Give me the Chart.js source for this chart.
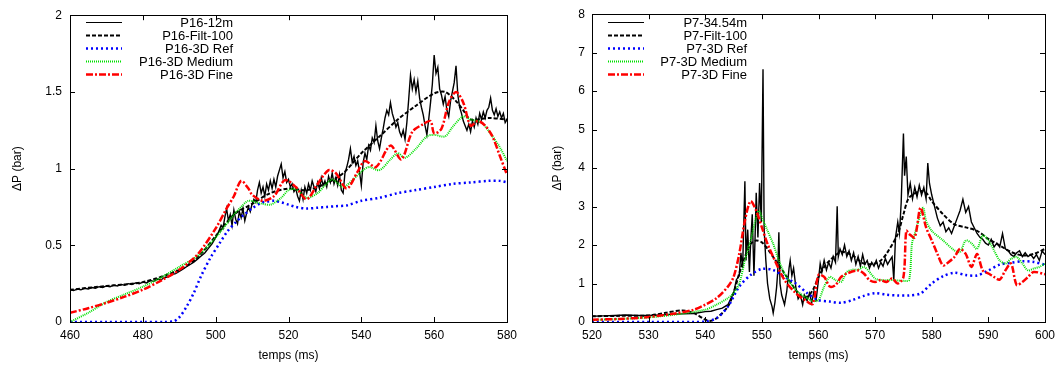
<!DOCTYPE html>
<html>
<head>
<meta charset="utf-8">
<script src="https://cdn.jsdelivr.net/npm/chart.js@4.4.1/dist/chart.umd.min.js"></script>
<style>
  body { margin: 0; background: #fff; }
  #wrap { position: relative; width: 1062px; height: 369px; }
  .box { position: absolute; top: 0; width: 531px; height: 369px; }
</style>
</head>
<body>
<div id="wrap">
  <div class="box" style="left:0"><canvas id="chartP16"></canvas></div>
  <div class="box" style="left:531px"><canvas id="chartP7"></canvas></div>
</div>
<script>
// ---- left panel: P16 ----
const p16XTicks = [460, 480, 500, 520, 540, 560, 580];
const p16YTicks = [0, 0.5, 1, 1.5, 2];

const p16MeasT = [460,461,462,463,464,465,466,467,468,469,470,471,472,473,474,475,476,477,478,479,480,481,482,483,484,485,486,487,488,489,490,491,492,493,494,495,496,497,498,499,500,
  500.5,501,501.5,502,502.5,503,503.5,504,504.5,505,505.5,506,506.5,507,507.5,508,508.5,509,509.5,510,510.5,511,511.5,512,512.5,513,513.5,514,514.5,515,515.5,516,516.5,517,517.5,518,518.5,519,519.5,520,
  520.5,521,521.5,522,522.5,523,523.5,524,524.5,525,525.5,526,526.5,527,527.5,528,528.5,529,529.5,530,530.5,531,531.5,532,532.5,533,533.5,534,534.5,535,535.5,536,536.5,537,537.5,538,538.5,539,539.5,540,
  540.5,541,541.5,542,542.5,543,543.5,544,544.5,545,545.5,546,546.5,547,547.5,548,548.5,549,549.5,550,550.5,551,551.5,552,552.5,553,553.5,554,554.5,555,555.5,556,556.5,557,557.5,558,558.5,559,559.5,560,
  560.5,561,561.5,562,562.5,563,563.5,564,564.5,565,565.5,566,566.5,567,567.5,568,568.5,569,569.5,570,570.5,571,571.5,572,572.5,573,573.5,574,574.5,575,575.5,576,576.5,577,577.5,578,578.5,579,579.5,580];
const p16Meas = [0.21,0.205,0.215,0.21,0.22,0.215,0.225,0.22,0.23,0.225,0.235,0.23,0.24,0.235,0.245,0.24,0.25,0.245,0.255,0.25,0.26,0.255,0.27,0.265,0.28,0.275,0.29,0.295,0.31,0.315,0.33,0.345,0.36,0.375,0.39,0.41,0.43,0.45,0.48,0.51,0.55,
  0.57,0.6,0.63,0.61,0.68,0.74,0.66,0.70,0.63,0.73,0.67,0.64,0.72,0.68,0.74,0.66,0.71,0.75,0.72,0.77,0.80,0.78,0.86,0.91,0.84,0.88,0.82,0.90,0.86,0.92,0.87,0.93,0.88,0.95,0.99,1.03,0.94,0.98,0.91,0.93,
  0.88,0.90,0.85,0.87,0.82,0.79,0.86,0.80,0.88,0.84,0.90,0.86,0.92,0.88,0.85,0.91,0.87,0.94,0.89,0.92,0.88,0.95,0.91,0.97,0.90,0.94,0.89,0.96,0.86,0.84,0.97,1.01,1.06,1.13,1.04,1.08,1.02,1.05,0.98,0.89,
  1.04,1.10,1.06,1.15,1.12,1.20,1.17,1.28,1.18,1.13,1.20,1.26,1.33,1.38,1.35,1.43,1.36,1.32,1.27,1.30,1.24,1.21,1.25,1.19,1.30,1.45,1.61,1.52,1.58,1.50,1.57,1.46,1.40,1.35,1.28,1.22,1.32,1.43,1.55,1.74,
  1.62,1.66,1.52,1.48,1.42,1.47,1.38,1.34,1.44,1.50,1.56,1.67,1.48,1.40,1.36,1.31,1.28,1.25,1.29,1.24,1.31,1.27,1.33,1.29,1.36,1.32,1.37,1.33,1.38,1.40,1.46,1.38,1.35,1.39,1.34,1.37,1.33,1.36,1.30,1.32];

const p16FiltT = [460,470,480,490,495,500,505,510,515,520,525,530,535,540,545,550,555,560,563,566,568,570,575,580];
const p16Filt  = [0.21,0.235,0.26,0.34,0.42,0.56,0.70,0.77,0.84,0.87,0.86,0.90,0.97,1.10,1.21,1.32,1.41,1.49,1.50,1.44,1.38,1.32,1.33,1.32];

const p16RefT = [460,470,480,486,488.5,490,492,494,496,498.6,501,503.2,505.5,507.8,510,512.3,514,516,518,520,522,525,528,530.6,533,536,540,545,550,555,560,565,570,575,578,580];
const p16Ref  = [0,0,0,0,0.005,0.03,0.1,0.19,0.3,0.42,0.51,0.59,0.65,0.70,0.74,0.775,0.785,0.79,0.78,0.765,0.75,0.74,0.745,0.75,0.755,0.76,0.79,0.81,0.84,0.86,0.88,0.90,0.91,0.92,0.92,0.91];

const p16MedT = [460,465,470,475,480,485,490,495,500,505,507,509,512,515,518,520,522,525,528,530,532,535,538,540,542,545,548,550,552,555,558,560,563,565,568,570,573,576,578,580];
const p16Med  = [0,0.06,0.13,0.18,0.23,0.29,0.36,0.43,0.55,0.70,0.75,0.79,0.775,0.765,0.81,0.86,0.865,0.81,0.84,0.89,0.93,0.88,0.935,0.98,1.01,0.99,1.06,1.10,1.07,1.13,1.21,1.22,1.21,1.27,1.34,1.32,1.30,1.21,1.14,1.05];

const p16FineT = [460,465,470,475,480,485,490,495,500,503,505,507,509,510,513,516,519,522,525,528,531,533,536,539,541,544,548,551,554,557,559,560,562,564,566,568,570,572,574,576,578,580];
const p16Fine  = [0.06,0.09,0.125,0.165,0.21,0.27,0.34,0.44,0.61,0.74,0.82,0.92,0.87,0.83,0.79,0.82,0.925,0.88,0.80,0.90,0.99,0.97,0.87,0.98,1.05,1.01,1.15,1.06,1.24,1.29,1.31,1.23,1.26,1.43,1.50,1.43,1.28,1.31,1.28,1.21,1.085,0.96];

// ---- right panel: P7 ----
const p7XTicks = [520, 530, 540, 550, 560, 570, 580, 590, 600];
const p7YTicks = [0, 1, 2, 3, 4, 5, 6, 7, 8];

const p7MeasT = [520,522,524,526,528,530,532,534,536,538,540,541,542,543,544,544.5,545,545.5,546,546.3,546.6,547,547.2,547.5,547.8,548,548.3,548.6,548.8,549,549.3,549.6,549.9,550.2,550.4,550.7,551,551.4,551.8,552,552.3,552.6,552.8,553,553.2,553.5,554,554.4,554.8,555,555.3,555.6,556,556.4,556.8,557.2,557.5,558,558.4,558.8,559.2,559.6,
  560,560.3,560.6,561,561.4,561.8,562.2,562.6,563,563.3,563.5,563.8,564.2,564.6,565,565.4,565.8,566.2,566.6,567,567.4,567.8,568.2,568.6,569,569.4,569.8,570.2,570.6,571,571.4,571.8,572.2,572.6,573,573.3,573.6,574,574.3,574.6,575,575.2,575.5,575.8,576.2,576.6,577,577.4,577.8,578.2,578.6,579,579.3,579.6,
  580,580.5,581,581.5,582,582.5,583,583.5,584,584.5,585,585.5,586,586.5,587,587.5,588,588.5,589,589.5,590,590.5,591,591.5,592,592.5,593,593.5,594,594.5,595,595.5,596,596.5,597,597.5,598,598.5,599,599.5,600];
const p7Meas = [0.15,0.16,0.17,0.18,0.17,0.17,0.18,0.2,0.21,0.22,0.27,0.28,0.32,0.36,0.45,0.6,0.75,1.1,1.2,1.8,1.4,3.66,1.6,2.4,1.3,2.0,2.8,1.2,2.2,3.36,2.2,3.61,2.6,6.57,2.4,1.6,1.0,0.6,0.4,0.23,0.5,0.9,1.3,2.33,1.0,0.7,0.45,0.8,1.4,1.6,1.2,1.4,0.9,0.6,0.7,0.45,0.7,0.55,0.75,0.5,0.8,0.6,
  1.1,1.52,1.3,1.6,1.35,1.55,1.4,1.7,1.55,3.01,1.7,1.9,1.75,2.0,1.7,1.85,1.6,1.8,1.5,1.7,1.45,1.75,1.5,1.6,1.4,1.55,1.45,1.6,1.4,1.55,1.45,1.65,1.5,1.6,1.69,1.1,2.2,2.6,2.3,3.1,4.9,3.8,4.3,3.3,3.6,3.2,3.5,3.25,3.55,3.3,3.5,3.2,4.13,3.6,
  3.3,3.0,2.7,2.5,2.6,2.35,2.45,2.3,2.5,2.7,2.9,3.19,2.85,3.0,2.6,2.45,2.3,2.2,2.15,2.05,2.0,2.15,1.95,2.05,1.95,2.3,1.9,1.85,1.75,1.7,1.8,1.85,1.7,1.8,1.7,1.75,1.65,1.75,1.6,1.85,1.75];

const p7FiltT = [520,525,530,533,536,538,540,541,542,544,545,546,547,548,549,550,551,552,554,556,557,558,559,560,561,562,564,566,568,570,571,572,574,575,576,578,579,580,582,584,586,588,590,592,594,596,598,600];
const p7Filt  = [0.15,0.16,0.17,0.24,0.3,0.23,0.06,0.03,0.1,0.4,0.75,1.26,1.69,2.03,2.12,2.07,1.9,1.69,1.26,0.83,0.66,0.66,0.83,1.17,1.43,1.6,1.82,1.73,1.52,1.52,1.6,1.77,2.29,2.8,3.23,3.4,3.36,3.14,2.8,2.54,2.46,2.37,2.16,1.99,1.82,1.73,1.77,1.9];

const p7RefT = [520,530,538,540,542,544,546,548,550,552,554,556,558,560,562,564,566,568,570,572,574,576,578,580,582,584,586,588,590,592,594,596,598,600];
const p7Ref  = [0,0,0,0.01,0.1,0.4,0.92,1.22,1.38,1.35,1.17,1.0,0.75,0.57,0.53,0.5,0.57,0.68,0.75,0.71,0.69,0.69,0.74,1.0,1.19,1.28,1.22,1.21,1.34,1.49,1.54,1.58,1.56,1.49];

const p7MedT = [520,525,530,535,540,542,544,545,546,547,548,549,549.5,550,551,552,553,554,556,558,559,560,561,562,563,564,565,566,567,568,569,570,571,573,575,576,576.5,577,578,578.5,579,580,582,584,585,586,587,588,589,590,591,592,593,594,595,596,597,598,599,600];
const p7Med  = [0.05,0.08,0.12,0.2,0.32,0.45,0.62,0.75,1.0,1.6,2.12,2.72,2.89,2.72,2.37,2.03,1.6,1.26,0.83,0.62,0.55,0.57,0.92,1.17,1.09,1.04,1.3,1.36,1.36,1.43,1.3,1.13,1.09,1.09,1.07,1.09,2.03,2.29,2.8,2.97,2.63,2.37,2.12,1.86,1.82,2.12,2.05,1.9,2.25,2.12,1.86,1.6,1.52,1.64,1.69,1.52,1.34,1.39,1.43,1.52];

const p7FineT = [520,525,530,535,538,540,542,544,545,546,547,548,549,550,551,552,554,556,558,559,560,561,562,563,564,565,567,568,569,570,571,572,573,574,575,575.5,576,577,578,579,580,581,582,583,584,585,586,587,588,589,590,591,592,593,594,595,596,597,598,600];
const p7Fine  = [0.06,0.08,0.13,0.23,0.32,0.45,0.62,0.92,1.17,1.77,2.63,3.14,2.89,2.46,2.03,1.69,1.09,0.75,0.53,0.47,1.22,1.17,0.92,0.96,1.17,1.26,1.34,1.26,1.09,1.04,1.09,1.04,1.13,1.0,1.17,2.37,2.29,2.2,2.97,2.46,2.12,1.77,1.47,1.56,1.69,1.90,1.77,1.43,1.77,1.34,1.26,1.17,1.10,1.34,1.52,0.96,1.04,1.17,1.30,1.24];

const seriesStyles = [
  { color: "#000000", width: 1.4, dash: [] },
  { color: "#000000", width: 2, dash: [4, 2] },
  { color: "#0000ff", width: 2.5, dash: [2, 3] },
  { color: "#00e000", width: 2, dash: [1, 1] },
  { color: "#ff0000", width: 2.5, dash: [7, 2, 2, 2] },
];

function toPoints(xs, ys) {
  return xs.map((x, i) => ({ x: x, y: ys[i] }));
}

function makeDataset(label, xs, ys, idx) {
  const s = seriesStyles[idx];
  return {
    label: label,
    data: toPoints(xs, ys),
    borderColor: s.color,
    borderWidth: s.width,
    borderDash: s.dash,
    pointRadius: 0,
    fill: false,
    tension: idx === 0 ? 0 : 0.3,
    order: 5 - idx,
  };
}

// frame + inward ticks on all four sides, gnuplot style
const framePlugin = {
  id: "frame",
  afterDatasetsDraw(chart) {
    const { ctx, chartArea: a, scales } = chart;
    const len = 5;
    ctx.save();
    ctx.strokeStyle = "#000";
    ctx.lineWidth = 1;
    ctx.setLineDash([]);
    ctx.beginPath();
    scales.x.ticks.forEach((t) => {
      const px = Math.round(scales.x.getPixelForValue(t.value)) + 0.5;
      ctx.moveTo(px, a.bottom); ctx.lineTo(px, a.bottom - len);
      ctx.moveTo(px, a.top); ctx.lineTo(px, a.top + len);
    });
    scales.y.ticks.forEach((t) => {
      const py = Math.round(scales.y.getPixelForValue(t.value)) + 0.5;
      ctx.moveTo(a.left, py); ctx.lineTo(a.left + len, py);
      ctx.moveTo(a.right, py); ctx.lineTo(a.right - len, py);
    });
    ctx.stroke();
    ctx.strokeRect(Math.round(a.left) + 0.5, Math.round(a.top) + 0.5,
      Math.round(a.right - a.left), Math.round(a.bottom - a.top));
    ctx.restore();
  },
};

// legend inside top-left: sample line then right-aligned text
const keyPlugin = {
  id: "key",
  afterDraw(chart) {
    const o = chart.options.plugins.key;
    const { ctx } = chart;
    ctx.save();
    ctx.font = "13px 'Liberation Sans', Arial, sans-serif";
    ctx.textAlign = "right";
    ctx.textBaseline = "middle";
    chart.data.datasets.forEach((ds, i) => {
      const y = o.top + i * 13;
      ctx.strokeStyle = ds.borderColor;
      ctx.lineWidth = i === 0 ? 1 : ds.borderWidth;
      ctx.setLineDash(ds.borderDash);
      ctx.beginPath();
      ctx.moveTo(o.lineX0, y + 0.5);
      ctx.lineTo(o.lineX1, y + 0.5);
      ctx.stroke();
      ctx.fillStyle = "#000";
      ctx.fillText(ds.label, o.textRight, y + 1);
    });
    ctx.restore();
  },
};

const tickFont = { family: "'Liberation Sans', Arial, sans-serif", size: 12 };

function makeChart(id, datasets, xTicks, yTicks, box) {
  return new Chart(document.getElementById(id), {
    type: "line",
    data: { datasets: datasets },
    plugins: [framePlugin, keyPlugin],
    options: {
      responsive: false,
      maintainAspectRatio: false,
      animation: false,
      devicePixelRatio: 1,
      layout: { padding: { left: 0, top: 11, right: box.padRight, bottom: 0 } },
      plugins: {
        legend: { display: false },
        tooltip: { enabled: false },
        key: box.key,
      },
      scales: {
        x: {
          type: "linear",
          min: xTicks[0],
          max: xTicks[xTicks.length - 1],
          afterBuildTicks: (s) => { s.ticks = xTicks.map((v) => ({ value: v })); },
          afterFit: (s) => { s.height = 47; },
          grid: { display: false, drawTicks: false },
          border: { display: false },
          ticks: { color: "#000", font: tickFont, padding: 6, maxRotation: 0, callback: (v) => String(v) },
          title: { display: true, text: "temps (ms)", color: "#000", font: tickFont, padding: { top: 0, bottom: 6 } },
        },
        y: {
          type: "linear",
          min: yTicks[0],
          max: yTicks[yTicks.length - 1],
          afterBuildTicks: (s) => { s.ticks = yTicks.map((v) => ({ value: v })); },
          afterFit: (s) => { s.width = box.yWidth; },
          grid: { display: false, drawTicks: false },
          border: { display: false },
          ticks: { color: "#000", font: tickFont, padding: box.yPad, callback: (v) => String(v) },
          title: { display: true, text: "ΔP (bar)", color: "#000", font: tickFont, padding: { top: box.titlePad, bottom: 0 } },
        },
      },
    },
  });
}

const c1 = document.getElementById("chartP16");
c1.width = 531; c1.height = 369;
const c2 = document.getElementById("chartP7");
c2.width = 531; c2.height = 369;

makeChart("chartP16", [
  makeDataset("P16-12m", p16MeasT, p16Meas, 0),
  makeDataset("P16-Filt-100", p16FiltT, p16Filt, 1),
  makeDataset("P16-3D Ref", p16RefT, p16Ref, 2),
  makeDataset("P16-3D Medium", p16MedT, p16Med, 3),
  makeDataset("P16-3D Fine", p16FineT, p16Fine, 4),
], p16XTicks, p16YTicks, {
  padRight: 24, yWidth: 70, yPad: 8, titlePad: 10,
  key: { top: 22, lineX0: 86, lineX1: 122, textRight: 233 },
});

makeChart("chartP7", [
  makeDataset("P7-34.54m", p7MeasT, p7Meas, 0),
  makeDataset("P7-Filt-100", p7FiltT, p7Filt, 1),
  makeDataset("P7-3D Ref", p7RefT, p7Ref, 2),
  makeDataset("P7-3D Medium", p7MedT, p7Med, 3),
  makeDataset("P7-3D Fine", p7FineT, p7Fine, 4),
], p7XTicks, p7YTicks, {
  padRight: 17, yWidth: 61, yPad: 7, titlePad: 19,
  key: { top: 22, lineX0: 77, lineX1: 113, textRight: 216 },
});
</script>
</body>
</html>
